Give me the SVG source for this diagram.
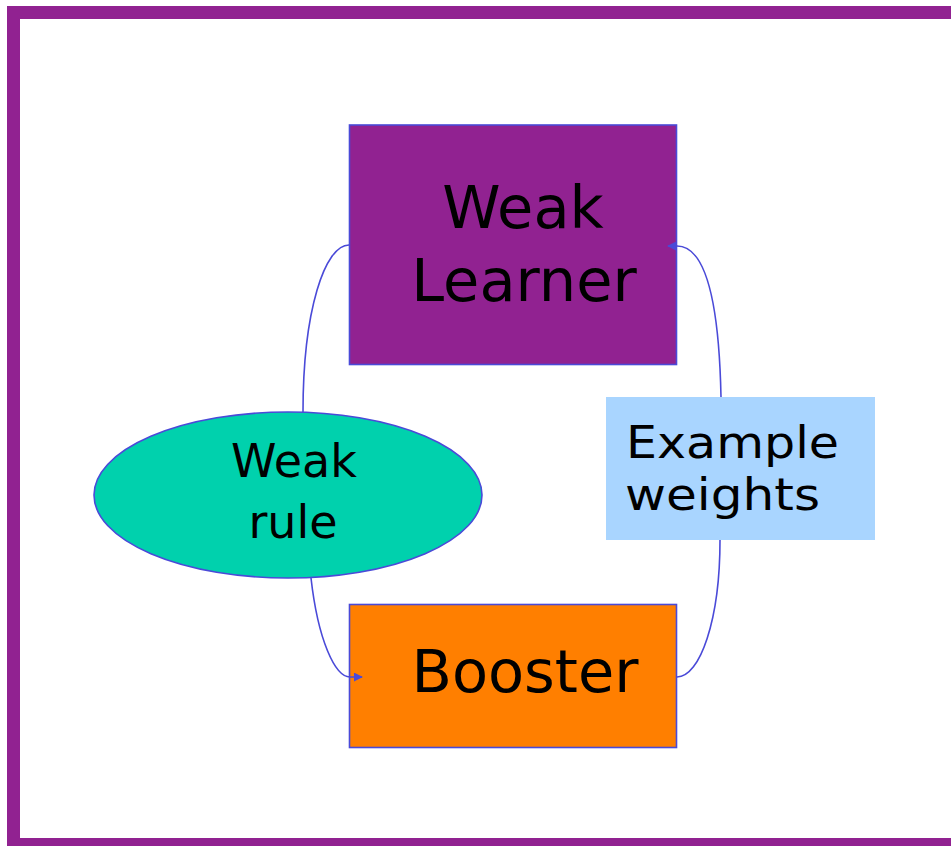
<svg xmlns="http://www.w3.org/2000/svg" width="951" height="846" viewBox="0 0 951 846">
  <defs>
    <style>
      .lbl { font-family: "DejaVu Sans", Verdana, sans-serif; fill: #000000; }
      .edge { fill: none; stroke: #4a4ad8; stroke-width: 1.6; }
      .box { stroke: #4a4ad8; stroke-width: 1.6; }
    </style>
    <marker id="arrow" viewBox="0 0 10 10" refX="9" refY="5" markerWidth="9" markerHeight="9" markerUnits="userSpaceOnUse" orient="auto">
      <path d="M0,0 L10,5 L0,10 Z" fill="#4a4ad8"/>
    </marker>
  </defs>

  <rect x="0" y="0" width="951" height="846" fill="#ffffff"/>
  <!-- outer frame -->
  <rect x="13.5" y="12.5" width="960" height="832" fill="none" stroke="#912291" stroke-width="13"/>

  <g id="weak-learner">
    <rect class="box" x="349.5" y="125" width="327" height="239.5" fill="#912291"/>
    <text class="lbl" x="523" y="228" font-size="59" text-anchor="middle">Weak</text>
    <text class="lbl" x="524" y="301" font-size="59" text-anchor="middle">Learner</text>
  </g>

  <g id="weak-rule">
    <ellipse class="box" cx="288" cy="495" rx="194" ry="83" fill="#00d1ad"/>
    <text class="lbl" x="294" y="477" font-size="46" text-anchor="middle">Weak</text>
    <text class="lbl" x="293" y="538" font-size="46" text-anchor="middle">rule</text>
  </g>

  <g id="example-weights">
    <rect x="606" y="397" width="269" height="143" fill="#a9d5ff"/>
    <text class="lbl" x="626" y="458" font-size="45" textLength="213" lengthAdjust="spacingAndGlyphs">Example</text>
    <text class="lbl" x="625" y="510" font-size="45" textLength="195" lengthAdjust="spacingAndGlyphs">weights</text>
  </g>

  <g id="booster">
    <rect class="box" x="349.5" y="604.5" width="327" height="143" fill="#ff7f00"/>
    <text class="lbl" x="525" y="692" font-size="59" text-anchor="middle">Booster</text>
  </g>

  <!-- connectors drawn last so arrowheads sit on top of the boxes -->
  <g id="connectors">
    <path class="edge" d="M303,412 C303,310 325,245 349,245"/>
    <path class="edge" d="M721,397 C719,300 705,246 677,246 L668,246" marker-end="url(#arrow)"/>
    <path class="edge" d="M311,578 C318,640 335,677 350,677 L362,677" marker-end="url(#arrow)"/>
    <path class="edge" d="M677,677 C700,677 720,620 720,540"/>
  </g>
</svg>
